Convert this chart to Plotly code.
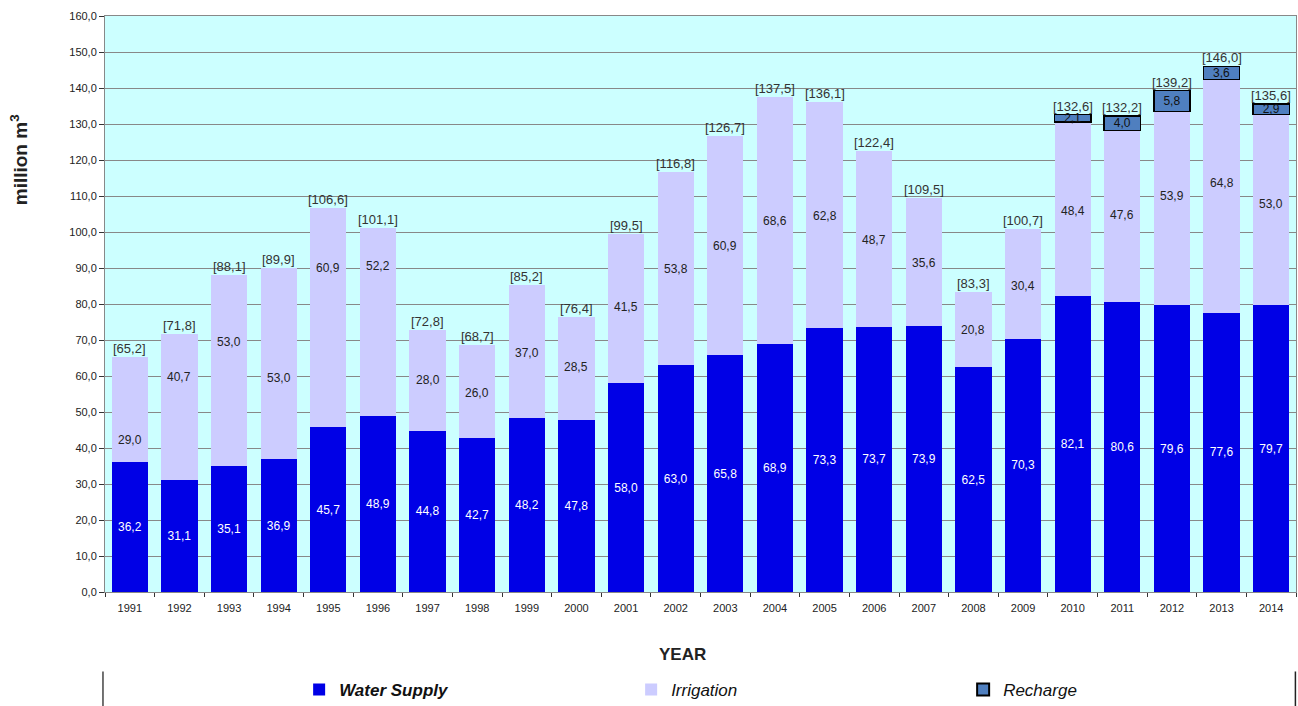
import plotly.graph_objects as go

years = [str(y) for y in range(1991, 2015)]
water_supply = [36.2, 31.1, 35.1, 36.9, 45.7, 48.9, 44.8, 42.7, 48.2, 47.8, 58.0, 63.0,
                65.8, 68.9, 73.3, 73.7, 73.9, 62.5, 70.3, 82.1, 80.6, 79.6, 77.6, 79.7]
irrigation = [29.0, 40.7, 53.0, 53.0, 60.9, 52.2, 28.0, 26.0, 37.0, 28.5, 41.5, 53.8,
              60.9, 68.6, 62.8, 48.7, 35.6, 20.8, 30.4, 48.4, 47.6, 53.9, 64.8, 53.0]
recharge = [None] * 19 + [2.1, 4.0, 5.8, 3.6, 2.9]
totals = [65.2, 71.8, 88.1, 89.9, 106.6, 101.1, 72.8, 68.7, 85.2, 76.4, 99.5, 116.8,
          126.7, 137.5, 136.1, 122.4, 109.5, 83.3, 100.7, 132.6, 132.2, 139.2, 146.0, 135.6]

# height (in axis units) where each irrigation value label sits
irr_label_y = [42.2, 59.7, 69.4, 59.4, 90.0, 90.6, 58.9, 55.3, 66.4, 62.5, 79.2, 89.7,
               96.1, 103.1, 104.4, 97.8, 91.4, 72.8, 85.0, 105.8, 104.7, 110.0, 113.6, 107.8]

FONT = "Arial, Liberation Sans, sans-serif"


def fmt(v):
    return f"{v:.1f}".replace(".", ",")


fig = go.Figure()

fig.add_trace(go.Bar(
    x=years, y=water_supply, name="<b><i>Water Supply</i></b>",
    marker=dict(color="#0000e6", line=dict(width=0)),
    text=[fmt(v) for v in water_supply], textposition="inside",
    insidetextanchor="middle", textangle=0,
    textfont=dict(color="white", size=12, family=FONT),
))
fig.add_trace(go.Bar(
    x=years, y=irrigation, name="<i>Irrigation</i>",
    marker=dict(color="#ccccff", line=dict(width=0)),
))
fig.add_trace(go.Bar(
    x=years, y=recharge, name="<i>Recharge</i>",
    marker=dict(color="#4f7fbf", line=dict(color="black", width=1.5)),
    text=[fmt(v) if v is not None else "" for v in recharge], textposition="inside",
    insidetextanchor="middle", textangle=0, constraintext="none",
    textfont=dict(color="#111111", size=12, family=FONT),
))

annotations = []
for i, (v, ly) in enumerate(zip(irrigation, irr_label_y)):
    annotations.append(dict(x=i, y=ly, text=fmt(v), showarrow=False,
                            font=dict(size=12, color="#222222", family=FONT)))
for i, t in enumerate(totals):
    annotations.append(dict(x=i, y=t, text=f"[{fmt(t)}]", showarrow=False, yanchor="bottom",
                            yshift=-1, font=dict(size=13, color="#333333", family=FONT)))

annotations.append(dict(xref="paper", yref="paper", x=0.485, y=-0.109, yanchor="middle",
                        text="<b>YEAR</b>", showarrow=False,
                        font=dict(size=17, color="#222222", family=FONT)))
annotations.append(dict(xref="paper", yref="paper", x=-0.072, y=0.75, xanchor="center",
                        yanchor="middle", textangle=-90, text="<b>million m<sup>3</sup></b>",
                        showarrow=False, font=dict(size=19, color="#222222", family=FONT)))

shapes = [
    dict(type="line", xref="paper", yref="paper", x0=-0.0017, x1=-0.0017, y0=-0.138, y1=-0.2,
         line=dict(color="#444444", width=1.5)),
    dict(type="line", xref="paper", yref="paper", x0=0.9995, x1=0.9995, y0=-0.138, y1=-0.2,
         line=dict(color="#222222", width=1.5)),
]

fig.update_layout(
    width=1298, height=706,
    margin=dict(l=105, r=2, t=16, b=114, autoexpand=False),
    barmode="stack", bargap=0.27,
    separators=", ",
    paper_bgcolor="white", plot_bgcolor="#ccffff",
    font=dict(family=FONT, color="#222222"),
    showlegend=True,
    legend=dict(orientation="h", x=0.163, y=-0.17, xanchor="left", yanchor="middle",
                traceorder="normal", entrywidth=287, entrywidthmode="pixels",
                font=dict(size=17, color="#111111", family=FONT),
                itemsizing="constant", bgcolor="rgba(0,0,0,0)"),
    annotations=annotations,
    shapes=shapes,
    uniformtext=dict(minsize=11, mode="show"),
)

fig.update_xaxes(
    type="category", showgrid=False, showline=True, linecolor="#888888", linewidth=1,
    mirror=True, ticks="outside", tickson="boundaries", ticklen=4, tickcolor="#333333",
    tickfont=dict(size=11, color="#222222", family=FONT), tickangle=0,
    ticklabelstandoff=6,
)
fig.update_yaxes(
    range=[0, 160], dtick=10, tickformat=".1f", showgrid=True, gridcolor="#888888",
    gridwidth=1, showline=True, linecolor="#888888", linewidth=1, mirror=True,
    ticks="outside", ticklen=5, tickcolor="#333333", zeroline=False,
    tickfont=dict(size=11, color="#222222", family=FONT),
)

fig.write_html("out.html")
